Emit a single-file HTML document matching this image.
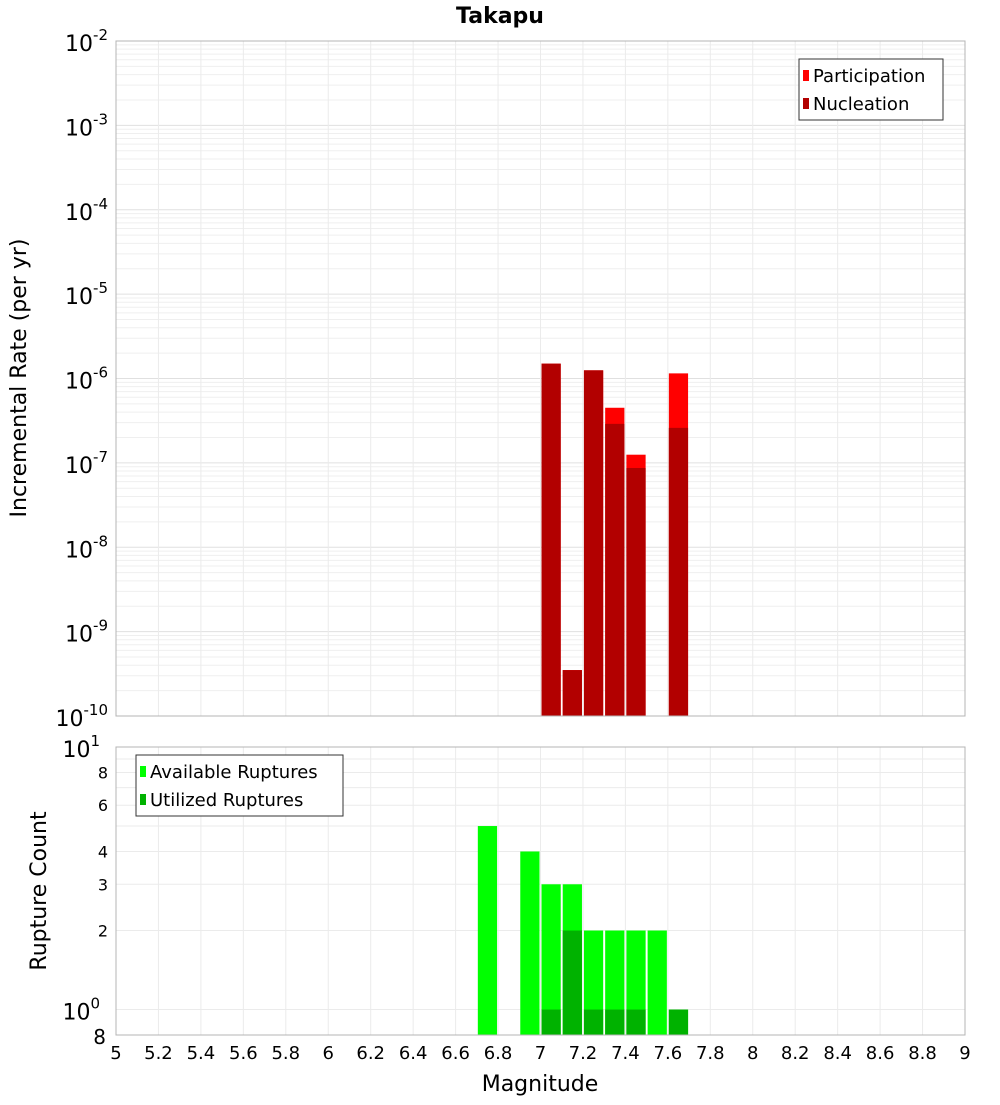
<!DOCTYPE html>
<html><head><meta charset="utf-8"><style>
body{margin:0;background:#fff;font-family:"Liberation Sans","DejaVu Sans",sans-serif}
svg text{font-family:"DejaVu Sans","Liberation Sans",sans-serif}
</style></head><body>
<svg id="c" width="1000" height="1100" xmlns="http://www.w3.org/2000/svg">
<rect width="1000" height="1100" fill="#fff"/>
<text x="500" y="23" text-anchor="middle" font-size="22" font-weight="bold">Takapu</text>
<g id="topPlot"></g><g id="botPlot"></g>
<text transform="translate(26,378) rotate(-90)" text-anchor="middle" font-size="22">Incremental Rate (per yr)</text>
<text transform="translate(46,891) rotate(-90)" text-anchor="middle" font-size="22">Rupture Count</text>
<text x="540" y="1091" text-anchor="middle" font-size="22">Magnitude</text>
</svg>
<script>
const binCenters=[7.05,7.15,7.25,7.35,7.45,7.65];
const participation=[1.5e-6,3.5e-10,1.25e-6,4.5e-7,1.25e-7,1.15e-6];
const nucleation=[1.5e-6,3.5e-10,1.25e-6,2.9e-7,8.7e-8,2.6e-7];
const countCenters=[6.75,6.95,7.05,7.15,7.25,7.35,7.45,7.55,7.65];
const available=[5,4,3,3,2,2,2,2,1];
const utilized=[0,0,1,2,1,1,1,0,1];
const xTicks=[5,5.2,5.4,5.6,5.8,6,6.2,6.4,6.6,6.8,7,7.2,7.4,7.6,7.8,8,8.2,8.4,8.6,8.8,9];
const topExps=[-2,-3,-4,-5,-6,-7,-8,-9,-10];
const botTicks=[8,6,4,3,2];

const NS="http://www.w3.org/2000/svg";
const L=116,R=965,T1=41,B1=716,T2=747,B2=1035;
const xs=m=>L+(m-5)/4*(R-L);
const y1=v=>T1+(-2-Math.log10(v))/8*(B1-T1);
const lmin=Math.log10(0.8);
const y2=v=>T2+(1-Math.log10(v))/(1-lmin)*(B2-T2);
function el(p,t,a,txt){const e=document.createElementNS(NS,t);for(const k in a)e.setAttribute(k,a[k]);if(txt!==undefined)e.textContent=txt;p.appendChild(e);return e;}
const topG=document.getElementById('topPlot'),botG=document.getElementById('botPlot');

for(let e=-10;e<-2;e++)for(let k=1;k<10;k++){const y=y1(k*Math.pow(10,e));
 const g=el(topG,'line',{x1:L,x2:R,y1:y,y2:y,stroke:k==1?'#e0e0e0':'#efefef','stroke-width':1});
 
 }
xTicks.forEach(t=>{[[T1,B1,topG],[T2,B2,botG]].forEach(([a,b,p])=>{const g=el(p,'line',{x1:xs(t),x2:xs(t),y1:a,y2:b,stroke:'#ebebeb'});
 
 });});
for(let v=1;v<=10;v++){const y=y2(v);const g=el(botG,'line',{x1:L,x2:R,y1:y,y2:y,stroke:'#ebebeb'});
 
 }

binCenters.forEach((m,i)=>{const x0=xs(m-0.05)+1,w=xs(m+0.05)-xs(m-0.05)-2;
 const p=el(topG,'rect',{x:x0,y:y1(participation[i]),width:w,height:B1-y1(participation[i]),fill:'#ff0000'});
 
 
 const n=el(topG,'rect',{x:x0,y:y1(nucleation[i]),width:w,height:B1-y1(nucleation[i]),fill:'#b20000'});
 
 });
countCenters.forEach((m,i)=>{const x0=xs(m-0.05)+1,w=xs(m+0.05)-xs(m-0.05)-2;
 const a=el(botG,'rect',{x:x0,y:y2(available[i]),width:w,height:B2-y2(available[i]),fill:'#00ff00'});
 
 
 if(utilized[i]>0){const u=el(botG,'rect',{x:x0,y:y2(utilized[i]),width:w,height:B2-y2(utilized[i]),fill:'#00b200'});
 
 }});

[[T1,B1,topG],[T2,B2,botG]].forEach(([a,b,p])=>{const f=el(p,'rect',{x:L,y:a,width:R-L,height:b-a,fill:'none',stroke:'#b4b4b4'});
 
 });

topExps.forEach(e=>{const y=y1(Math.pow(10,e));const t=el(topG,'text',{x:108,y:y+10,'text-anchor':'end','font-size':22});
 
 
 el(t,'tspan',{},'10');el(t,'tspan',{dy:-11,'font-size':15},String(e));});
[[10,'1'],[1,'0']].forEach(([v,s])=>{const t=el(botG,'text',{x:100,y:y2(v)+10,'text-anchor':'end','font-size':22});
 
 
 el(t,'tspan',{},'10');el(t,'tspan',{dy:-11,'font-size':15},s);});
botTicks.forEach(v=>{const t=el(botG,'text',{x:108,y:y2(v)+6,'text-anchor':'end','font-size':16},String(v));
 
 });
{const t=el(botG,'text',{x:106,y:B2+9,'text-anchor':'end','font-size':20},'8');
 
 }
xTicks.forEach(v=>{const t=el(botG,'text',{x:xs(v),y:1059,'text-anchor':'middle','font-size':18},String(v));
 
 });

function legend(p,x,y,w,items,name){const g=el(p,'g',{});
 
 
 el(g,'rect',{x:x,y:y,width:w,height:items.length*28+5,fill:'#fff',stroke:'#333'});
 items.forEach(([c,l],i)=>{el(g,'rect',{x:x+4,y:y+11+i*28,width:6,height:11,fill:c});
 const t=el(g,'text',{x:x+14,y:y+23+i*28,'font-size':18},l);
 
 });}
legend(topG,799,59,144,[['#ff0000','Participation'],['#b20000','Nucleation']],'top-legend');
legend(botG,136,755,207,[['#00ff00','Available Ruptures'],['#00b200','Utilized Ruptures']],'bottom-legend');
</script>
</body></html>
